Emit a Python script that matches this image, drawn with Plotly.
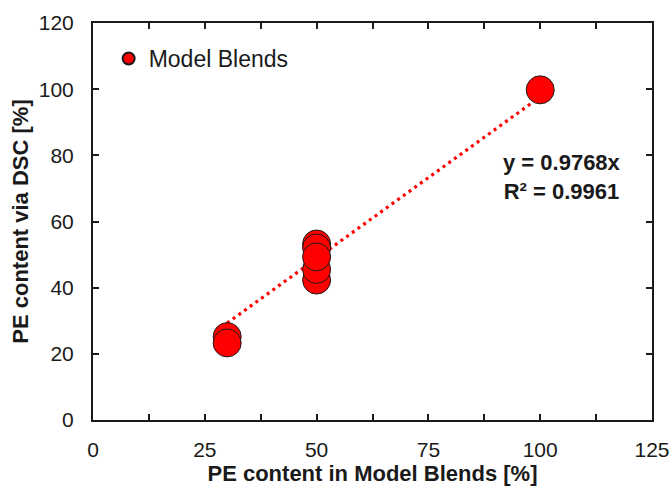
import plotly.graph_objects as go

# Data
pe_model = [30, 30, 50, 50, 50, 50, 50, 100]
pe_dsc = [25.2, 23.3, 53.2, 52.0, 42.3, 45.5, 49.3, 99.8]
slope = 0.9768
r2 = 0.9961
fit_x = [30, 100]
fit_y = [slope * v for v in fit_x]

x_ticks = [0, 25, 50, 75, 100, 125]
y_ticks = [0, 20, 40, 60, 80, 100, 120]

FONT = "Liberation Sans, Arial, sans-serif"
TXT = "#1a1a1a"

fig = go.Figure()
fig.add_trace(go.Scatter(
    x=fit_x, y=fit_y, mode="lines",
    line=dict(color="#ff0000", width=3.2, dash="3px,4px"),
    showlegend=False, hoverinfo="skip"))
fig.add_trace(go.Scatter(
    x=pe_model, y=pe_dsc, mode="markers", name="Model Blends",
    marker=dict(color="#ff0000", size=28, line=dict(color="#1a1a1a", width=1))))

fig.add_annotation(
    x=0.839, y=0.613, xref="paper", yref="paper", showarrow=False,
    xanchor="center", yanchor="middle",
    text=f"<b>y = {slope}x</b><br><b>R² = {r2}</b>",
    font=dict(family=FONT, size=22, color=TXT), align="center")

axis_common = dict(
    showline=True, linecolor="#1a1a1a", linewidth=2, mirror="ticks",
    ticks="inside", ticklen=6, tickwidth=2, tickcolor="#1a1a1a",
    showgrid=False, zeroline=False, automargin=False,
    tickfont=dict(family=FONT, size=21, color=TXT))

fig.update_xaxes(
    range=[0, 125], tickvals=x_ticks, ticklabelstandoff=10,
    minor=dict(dtick=12.5, tick0=0, ticks="inside", ticklen=6, tickwidth=2, tickcolor="#1a1a1a"),
    title=dict(text="<b>PE content in Model Blends [%]</b>", standoff=0,
               font=dict(family=FONT, size=22, color=TXT)),
    **axis_common)
fig.update_yaxes(
    range=[0, 120], tickvals=y_ticks, ticklabelstandoff=13,
    title=dict(text="<b>PE content via DSC [%]</b>", standoff=4,
               font=dict(family=FONT, size=22, color=TXT)),
    **axis_common)

fig.update_layout(
    width=671, height=489,
    margin=dict(l=93, r=19, t=23, b=69),
    paper_bgcolor="white", plot_bgcolor="white",
    legend=dict(x=0.028, y=0.9106, xanchor="left", yanchor="middle",
                bgcolor="rgba(0,0,0,0)", itemsizing="constant",
                font=dict(family=FONT, size=23, color=TXT)),
)

fig.write_html("out.html")
